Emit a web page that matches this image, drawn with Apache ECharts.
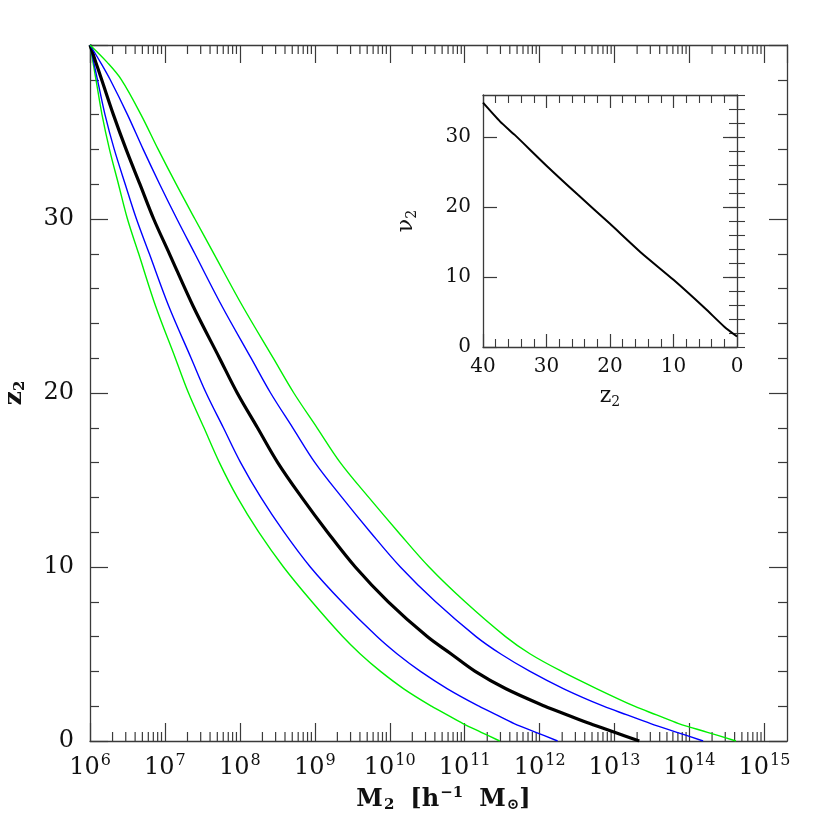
<!DOCTYPE html>
<html><head><meta charset="utf-8">
<script src="https://cdn.jsdelivr.net/npm/echarts@6/dist/echarts.min.js"></script>
<style>html,body{margin:0;padding:0;background:#fff}#c{width:830px;height:830px}</style>
</head><body><div id="c"></div>
<script>
// ---- main panel: redshift z2 levels and log10(M2) of each curve ----
const zLevels       = [40,   39,    38,    36,    34,    32,    30,    28,    25,    22,    20,    18,    16,    14,    12,     10,     8,      6,      5,      4,      3,      2,      1.5,    1,      0.5,   0];
const logM_green_lo = [6.00, 6.04,  6.08,  6.16,  6.26,  6.38,  6.50,  6.65,  6.875, 7.139, 7.315, 7.521, 7.727, 7.967, 8.252,  8.582,  8.962,  9.372,  9.607,  9.877,  10.187, 10.557, 10.767, 10.977, 11.22, 11.467];
const logM_blue_lo  = [6.00, 6.05,  6.10,  6.20,  6.324, 6.47,  6.62,  6.792, 7.05,  7.35,  7.55,  7.78,  8.01,  8.28,  8.59,   8.94,   9.36,   9.83,   10.10,  10.41,  10.77,  11.19,  11.425, 11.66,  11.95, 12.24];
const logM_median   = [6.00, 6.078, 6.156, 6.312, 6.482, 6.666, 6.85,  7.06,  7.375, 7.729, 7.965, 8.235, 8.505, 8.825, 9.17,   9.54,   9.98,   10.50,  10.82,  11.14,  11.55,  12.07,  12.37,  12.67,  13.00, 13.33];
const logM_blue_hi  = [6.00, 6.14,  6.27,  6.50,  6.71,  6.93,  7.16,  7.40,  7.76,  8.15,  8.41,  8.706, 9.002, 9.362, 9.742,  10.142, 10.612, 11.152, 11.482, 11.872, 12.322, 12.852, 13.167, 13.482, 13.832, 14.182];
const logM_green_hi = [6.00, 6.23,  6.42,  6.68,  6.91,  7.15,  7.40,  7.654, 8.035, 8.446, 8.72,  9.03,  9.34,  9.72,  10.115, 10.525, 11.005, 11.545, 11.875, 12.295, 12.765, 13.265, 13.56,  13.855, 14.24, 14.62];

// ---- inset: nu2 versus z2 ----
const insetZ  = [40,   37.3, 35,   30,   25,   20,   15,   10,  5,   2,   0];
const insetNu = [34.9, 32.2, 30.3, 25.9, 21.7, 17.6, 13.4, 9.6, 5.5, 2.9, 1.5];

// ---- axes ----
const massMin = 1e6, massMax = 2e15;
const zMin = 0, zMax = 40;
const insetNuMax = 36;

const FONT = 'DejaVu Serif';
const AX = '#3a3a3a';
const GREEN = '#00f000', BLUE = '#0000ff';

function toPairs(logs) { return zLevels.map((z, i) => [Math.pow(10, logs[i]), z]); }

const minorVals = [];
for (let e = 6; e <= 15; e++) {
  for (let k = 2; k <= 9; k++) {
    const v = k * Math.pow(10, e);
    if (v < massMax) minorVals.push([v, 0]);
  }
}

const chart = echarts.init(document.getElementById('c'), null, {renderer: 'canvas'});

const axLine = {show: true, onZero: false, lineStyle: {color: AX, width: 1.3}};
const mainLabelRich = {
  b: {fontFamily: FONT, fontSize: 24, color: '#111'},
  e: {fontFamily: FONT, fontSize: 16, color: '#111', padding: [0, 0, 14, 1]}
};
const titleBase = {fontFamily: FONT, fontWeight: 'bold', color: '#111'};

const option = {
  backgroundColor: '#fff',
  animation: false,
  grid: [
    {left: 90, right: 43, top: 45, bottom: 89, containLabel: false, outerBoundsMode: 'none'},
    {left: 483, right: 93, top: 95, bottom: 483, containLabel: false, outerBoundsMode: 'none'}
  ],
  xAxis: [
    {
      gridIndex: 0, type: 'log', logBase: 10, min: massMin, max: massMax, splitNumber: 10,
      position: 'bottom', axisLine: axLine,
      axisTick: {show: true, inside: true, length: 18, lineStyle: {color: AX, width: 1.2}},
      splitLine: {show: false},
      axisLabel: {
        show: true, margin: 12, showMaxLabel: false, showMinLabel: true,
        formatter: v => '{b|10}{e|' + Math.round(Math.log10(v)) + '}',
        rich: mainLabelRich
      },
      name: '{m|M}{s1|2}{m|[h}{p|−1}{m|M}{s|⊙}{m|]}',
      nameLocation: 'middle', nameGap: 45,
      nameTextStyle: {
        padding: [0, 0, 0, 10],
        rich: {
          m: Object.assign({fontSize: 24}, titleBase),
          s1: Object.assign({fontSize: 15, padding: [12, 16, 0, 1]}, titleBase),
          s: Object.assign({fontSize: 15, padding: [12, 0, 0, 1]}, titleBase),
          p: Object.assign({fontSize: 15, padding: [0, 16, 12, 1]}, titleBase)
        }
      }
    },
    {
      gridIndex: 0, type: 'log', logBase: 10, min: massMin, max: massMax, splitNumber: 10,
      position: 'top', axisLine: axLine,
      axisTick: {show: true, inside: true, length: 18, lineStyle: {color: AX, width: 1.2}},
      splitLine: {show: false}, axisLabel: {show: false}
    },
    {
      gridIndex: 1, type: 'value', min: 0, max: 40, interval: 10, inverse: true,
      position: 'bottom', axisLine: axLine,
      axisTick: {show: true, inside: true, length: 13, lineStyle: {color: AX, width: 1.2}},
      minorTick: {show: true, splitNumber: 5, length: 8, lineStyle: {color: AX, width: 1.1}},
      splitLine: {show: false},
      axisLabel: {margin: 10, fontFamily: FONT, fontSize: 20, color: '#111'},
      name: '{z|z}{s|2}', nameLocation: 'middle', nameGap: 37,
      nameTextStyle: {rich: {
        z: {fontFamily: FONT, fontSize: 22, color: '#111'},
        s: {fontFamily: FONT, fontSize: 14, color: '#111', padding: [11, 0, 0, 0]}
      }}
    },
    {
      gridIndex: 1, type: 'value', min: 0, max: 40, interval: 10, inverse: true,
      position: 'top', axisLine: axLine,
      axisTick: {show: true, inside: true, length: 13, lineStyle: {color: AX, width: 1.2}},
      minorTick: {show: true, splitNumber: 5, length: 8, lineStyle: {color: AX, width: 1.1}},
      splitLine: {show: false}, axisLabel: {show: false}
    }
  ],
  yAxis: [
    {
      gridIndex: 0, type: 'value', min: zMin, max: zMax, interval: 10, position: 'left',
      axisLine: axLine,
      axisTick: {show: true, inside: true, length: 18, lineStyle: {color: AX, width: 1.2}},
      minorTick: {show: true, splitNumber: 5, length: 9, lineStyle: {color: AX, width: 1.2}},
      splitLine: {show: false},
      axisLabel: {margin: 16, fontFamily: FONT, fontSize: 24, color: '#111', showMaxLabel: false},
      name: '{z|z}{s|2}', nameLocation: 'middle', nameGap: 62,
      nameTextStyle: {rich: {
        z: Object.assign({fontSize: 25}, titleBase),
        s: Object.assign({fontSize: 15, padding: [12, 0, 0, 0]}, titleBase)
      }}
    },
    {
      gridIndex: 0, type: 'value', min: zMin, max: zMax, interval: 10, position: 'right',
      axisLine: axLine,
      axisTick: {show: true, inside: true, length: 18, lineStyle: {color: AX, width: 1.2}},
      minorTick: {show: true, splitNumber: 5, length: 9, lineStyle: {color: AX, width: 1.2}},
      splitLine: {show: false}, axisLabel: {show: false}
    },
    {
      gridIndex: 1, type: 'value', min: 0, max: insetNuMax, interval: 10, position: 'left',
      axisLine: axLine,
      axisTick: {show: true, inside: true, length: 14, lineStyle: {color: AX, width: 1.2}},
      splitLine: {show: false},
      axisLabel: {margin: 12, fontFamily: FONT, fontSize: 20, color: '#111', showMaxLabel: false},
      name: '{n|ν}{s|2}', nameLocation: 'middle', nameGap: 64,
      nameTextStyle: {rich: {
        n: {fontFamily: FONT, fontSize: 22, color: '#111'},
        s: {fontFamily: FONT, fontSize: 14, color: '#111', padding: [11, 0, 0, 0]}
      }}
    },
    {
      gridIndex: 1, type: 'value', min: 0, max: insetNuMax, interval: 2, position: 'left',
      axisLine: {show: false},
      axisTick: {show: true, inside: true, length: 8, lineStyle: {color: AX, width: 1.1}},
      splitLine: {show: false}, axisLabel: {show: false}
    },
    {
      gridIndex: 1, type: 'value', min: 0, max: insetNuMax, interval: 10, position: 'right',
      axisLine: axLine,
      axisTick: {show: true, inside: true, length: 14, lineStyle: {color: AX, width: 1.2}},
      splitLine: {show: false}, axisLabel: {show: false}
    },
    {
      gridIndex: 1, type: 'value', min: 0, max: insetNuMax, interval: 2, position: 'right',
      axisLine: {show: false},
      axisTick: {show: true, inside: true, length: 8, lineStyle: {color: AX, width: 1.1}},
      splitLine: {show: false}, axisLabel: {show: false}
    }
  ],
  series: [
    {type: 'line', xAxisIndex: 0, yAxisIndex: 0, data: toPairs(logM_green_lo), showSymbol: false, smooth: 0.35,
     lineStyle: {color: GREEN, width: 1.4}},
    {type: 'line', xAxisIndex: 0, yAxisIndex: 0, data: toPairs(logM_blue_lo), showSymbol: false, smooth: 0.35,
     lineStyle: {color: BLUE, width: 1.4}},
    {type: 'line', xAxisIndex: 0, yAxisIndex: 0, data: toPairs(logM_median), showSymbol: false, smooth: 0.35,
     lineStyle: {color: '#000', width: 3.2}},
    {type: 'line', xAxisIndex: 0, yAxisIndex: 0, data: toPairs(logM_blue_hi), showSymbol: false, smooth: 0.35,
     lineStyle: {color: BLUE, width: 1.4}},
    {type: 'line', xAxisIndex: 0, yAxisIndex: 0, data: toPairs(logM_green_hi), showSymbol: false, smooth: 0.35,
     lineStyle: {color: GREEN, width: 1.4}},
    {
      type: 'custom', xAxisIndex: 0, yAxisIndex: 0, data: minorVals, silent: true, clip: false,
      renderItem: function (params, api) {
        const v = api.value(0);
        const b = api.coord([v, zMin]);
        const t = api.coord([v, zMax]);
        return {type: 'group', children: [
          {type: 'line', shape: {x1: b[0], y1: b[1], x2: b[0], y2: b[1] - 9}, style: {stroke: AX, lineWidth: 1.2}},
          {type: 'line', shape: {x1: t[0], y1: t[1], x2: t[0], y2: t[1] + 9}, style: {stroke: AX, lineWidth: 1.2}}
        ]};
      }
    },
    {type: 'line', xAxisIndex: 2, yAxisIndex: 2, data: insetZ.map((z, i) => [z, insetNu[i]]),
     showSymbol: false, smooth: 0.2, lineStyle: {color: '#000', width: 2}}
  ]
};
chart.setOption(option);
</script>
</body></html>
